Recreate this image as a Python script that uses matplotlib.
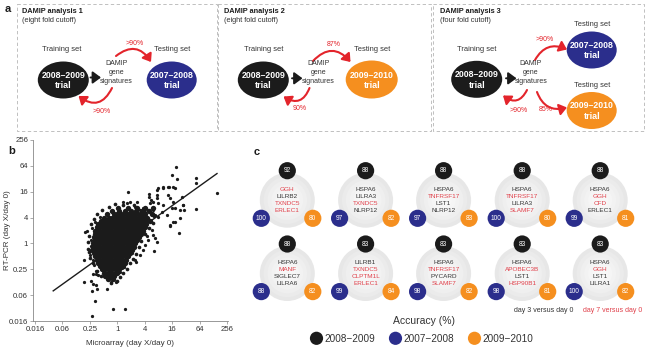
import numpy as np
import matplotlib
matplotlib.use("Agg")
import matplotlib.pyplot as plt
from matplotlib.patches import Ellipse, Circle, Rectangle, FancyArrowPatch

plt.rcParams['font.family'] = ['Liberation Sans', 'DejaVu Sans']

# ------------------------------------------------------------------ data
# panel b: log2 fold changes (microarray x, RT-PCR y)
blob_row_ly = [2.75, 2.5, 2.25, 2.0, 1.75, 1.5, 1.25, 1.0, 0.75, 0.5, 0.25, 0.0,
               -0.25, -0.5, -0.75, -1.0, -1.25, -1.5, -1.75, -2.0, -2.25, -2.5, -2.75]
blob_row_lx = [
    [0.05, 0.8, 1.45, 2.05, 2.6],
    [-0.4, 0.125, 0.6, 1.0, 1.375, 1.8, 2.3],
    [-0.75, -0.25, 0.0, 0.25, 0.5, 0.75, 1.0, 1.25, 1.5, 1.75, 2.0, 2.5],
    [-1.0, -0.625, -0.375, -0.125, 0.125, 0.375, 0.625, 0.875, 1.125, 1.375, 1.625, 1.875, 2.2],
    [-1.2, -1.0, -0.75, -0.5, -0.25, 0.0, 0.25, 0.5, 0.75, 1.0, 1.25, 1.5, 1.75, 2.0, 2.35],
    [-1.375, -1.125, -0.875, -0.625, -0.375, -0.125, 0.125, 0.375, 0.625, 0.875, 1.125,
     1.375, 1.625, 1.875, 2.1],
    [-1.5, -1.25, -1.0, -0.75, -0.5, -0.25, 0.0, 0.25, 0.5, 0.75, 1.0, 1.25, 1.5, 1.75, 2.05],
    [-1.625, -1.375, -1.125, -0.875, -0.625, -0.375, -0.125, 0.125, 0.375, 0.625, 0.875,
     1.125, 1.375, 1.625, 1.9],
    [-1.6, -1.25, -1.0, -0.75, -0.5, -0.25, 0.0, 0.25, 0.5, 0.75, 1.0, 1.25, 1.5, 1.7],
    [-1.7, -1.375, -1.125, -0.875, -0.625, -0.375, -0.125, 0.125, 0.375, 0.625, 0.875,
     1.125, 1.375, 1.6],
    [-1.65, -1.5, -1.25, -1.0, -0.75, -0.5, -0.25, 0.0, 0.25, 0.5, 0.75, 1.0, 1.25, 1.45],
    [-1.8, -1.625, -1.375, -1.125, -0.875, -0.625, -0.375, -0.125, 0.125, 0.375, 0.625,
     0.875, 1.125, 1.3],
    [-1.75, -1.5, -1.25, -1.0, -0.75, -0.5, -0.25, 0.0, 0.25, 0.5, 0.75, 1.0, 1.2],
    [-1.85, -1.625, -1.375, -1.125, -0.875, -0.625, -0.375, -0.125, 0.125, 0.375, 0.625,
     0.875, 1.05],
    [-1.7, -1.5, -1.25, -1.0, -0.75, -0.5, -0.25, 0.0, 0.25, 0.5, 0.75, 0.95],
    [-1.625, -1.375, -1.125, -0.875, -0.625, -0.375, -0.125, 0.125, 0.375, 0.625, 0.8],
    [-1.5, -1.25, -1.0, -0.75, -0.5, -0.25, 0.0, 0.25, 0.45, 0.65],
    [-1.375, -1.125, -0.875, -0.625, -0.375, -0.125, 0.125, 0.3, 0.55],
    [-1.25, -1.0, -0.75, -0.5, -0.25, 0.0, 0.2, 0.4],
    [-1.125, -0.875, -0.625, -0.375, -0.125, 0.1],
    [-1.0, -0.7, -0.45, -0.2, 0.0],
    [-0.9, -0.55, -0.25],
    [-0.7, -0.3],
]
fringe_lx = [-2.05, -2.1, -1.98, -2.15, -1.9, -1.7, -1.45, -1.1, -0.6, -0.2, 0.4, 1.2,
             2.7, 2.6, 2.3, 2.0, 1.75, 1.55, 1.35, 1.15, 0.9, 0.7, 0.45, 0.2, -0.05,
             -0.45, -1.2, -1.5, -1.75, -2.05]
fringe_ly = [0.6, -0.4, -1.1, 0.1, 1.5, 1.9, 2.3, 2.55, 2.8, 3.05, 3.0, 2.95,
             2.1, 1.6, 1.2, 0.7, 0.2, -0.3, -0.8, -1.2, -1.55, -1.95, -2.3, -2.6, -2.9,
             -3.05, -2.5, -2.1, -1.55, -0.7]
out_lx = [4.26, 4.02, 5.74, 5.74, 7.30, 5.74, 4.53, 4.21, 4.09, 3.72, 3.36, 2.99,
          0.81, 2.32, 2.88, 3.72, 3.85, 4.70, 4.77, 4.58, 3.97, 4.33, 3.31, 2.92,
          3.80, 2.34, 2.44, 2.39, 2.58, 2.92, 2.99, 3.36, 4.09, 4.21, 4.82, 4.89,
          4.58, 3.85, 4.21, 3.24, 3.61, 2.99, 0.40, 0.69, 0.93, 1.42, 1.66, 1.90,
          2.02, 2.26, 2.63, 2.75, 1.66, 1.17, 1.29, 3.85, 4.04, 2.63, 2.75, 2.88,
          2.70, 1.90, 2.02, 2.26, 2.51, 1.37, 1.29, 1.05, 1.66, 0.49, 0.32, 0.20,
          0.54, -2.35, -2.19, -2.40, -2.43, -1.92, -1.75, -1.57, -1.38, -1.75,
          -1.57, -1.82, -1.50, -0.73, -0.46, -0.09, -1.62, -1.82, -0.29, -1.95,
          -1.90, -2.00, -1.85, -1.62, -1.26, -1.80, -1.70, -1.55, 1.95, 2.15]
out_ly = [5.89, 5.29, 5.04, 4.70, 3.92, 2.66, 0.78, 4.26, 4.39, 4.39, 4.34, 4.26,
          4.00, 3.61, 3.74, 3.74, 3.49, 3.61, 2.97, 2.58, 2.72, 4.96, 4.26, 4.13,
          4.34, 3.80, 3.36, 3.10, 3.23, 3.49, 3.10, 2.97, 3.23, 2.72, 2.97, 2.58,
          1.94, 1.35, 1.68, 2.45, 2.20, 2.07, 3.23, 3.10, 3.23, 3.23, 2.58, 2.72,
          2.45, 2.58, 2.58, 2.20, 2.20, 2.33, 2.84, 1.42, 1.68, 0.65, 0.40, 0.13,
          -0.56, -0.51, -0.12, 0.26, 1.04, -1.41, -1.28, -0.77, -0.90, -1.80, -1.92,
          -2.19, -5.10, 0.91, 0.98, -1.28, -2.96, -2.91, -2.39, -2.39, -2.44, -3.16,
          -3.22, -3.68, -3.55, -3.55, -2.96, -2.96, -4.43, -5.59, -5.10, 0.30,
          -0.20, -0.90, 1.20, 1.68, 2.07, -1.30, -1.70, -2.10, 1.10, 0.60]
fit_slope = 0.76
fit_intercept = -0.12
fit_lx_range = [-4.67, 7.27]
tick_exp = [-6, -4, -2, 0, 2, 4, 6, 8]
tick_labels = ['0.016', '0.06', '0.25', '1', '4', '16', '64', '256']

# panel a
analysis_titles = ['DAMIP analysis 1', 'DAMIP analysis 2', 'DAMIP analysis 3']
analysis_cutoffs = ['(eight fold cutoff)', '(eight fold cutoff)', '(four fold cutoff)']
trial_names = ['2008–2009', '2007–2008', '2009–2010']

# panel c: accuracy (%) per signature
acc_0809 = [92, 88, 88, 88, 88, 88, 83, 83, 83, 83]
acc_0708 = [100, 97, 97, 100, 99, 88, 99, 98, 98, 100]
acc_0910 = [80, 82, 83, 80, 81, 82, 84, 82, 81, 82]
sig_genes = [
    ['GGH', 'LILRB2', 'TXNDC5', 'ERLEC1'],
    ['HSPA6', 'LILRA3', 'TXNDC5', 'NLRP12'],
    ['HSPA6', 'TNFRSF17', 'LST1', 'NLRP12'],
    ['HSPA6', 'TNFRSF17', 'LILRA3', 'SLAMF7'],
    ['HSPA6', 'GGH', 'CFD', 'ERLEC1'],
    ['HSPA6', 'MANF', 'SIGLEC7', 'LILRA6'],
    ['LILRB1', 'TXNDC5', 'CLPTM1L', 'ERLEC1'],
    ['HSPA6', 'TNFRSF17', 'PYCARD', 'SLAMF7'],
    ['HSPA6', 'APOBEC3B', 'LST1', 'HSP90B1'],
    ['HSPA6', 'GGH', 'LST1', 'LILRA1'],
]
sig_day7 = [
    [1, 0, 1, 1], [0, 0, 1, 0], [0, 1, 0, 0], [0, 1, 0, 1], [0, 1, 1, 0],
    [0, 1, 0, 0], [0, 1, 1, 1], [0, 1, 0, 1], [0, 1, 0, 1], [0, 1, 0, 0],
]
legend_labels = ['2008−2009', '2007−2008', '2009−2010']

# ------------------------------------------------------------------ style
BLACK = '#1b1b1b'
BLUE = '#2b2e8c'
ORANGE = '#f58f1f'
RED = '#e3242b'
GENE_RED = '#e0404a'
TXT = '#333333'

W, H = 647, 353
fig = plt.figure(figsize=(W / 100, H / 100), dpi=100)

# ------------------------------------------------------------------ panel b
x0, x1 = 32.9, 227.7
y0, y1 = 140.0, 321.0
axb = fig.add_axes([x0 / W, (H - y1) / H, (x1 - x0) / W, (y1 - y0) / H])
bx = np.concatenate([np.array(r) for r in blob_row_lx])
by = np.concatenate([np.full(len(r), v) for r, v in zip(blob_row_lx, blob_row_ly)])
axb.scatter(bx, by, s=15, c=BLACK, linewidths=0, marker='o')
axb.scatter(fringe_lx, fringe_ly, s=7, c=BLACK, linewidths=0, marker='o')
axb.scatter(out_lx, out_ly, s=5.5, c=BLACK, linewidths=0, marker='o')
fx = np.array(fit_lx_range)
axb.plot(fx, fit_slope * fx + fit_intercept, color=BLACK, lw=1.0)
axb.set_xlim(-6.15, 8.05)
axb.set_ylim(-6.0, 8.0)
axb.set_xticks(tick_exp)
axb.set_xticklabels(tick_labels)
axb.set_yticks(tick_exp)
axb.set_yticklabels(tick_labels)
for s in ['top', 'right']:
    axb.spines[s].set_visible(False)
for s in ['left', 'bottom']:
    axb.spines[s].set_color('#888888')
    axb.spines[s].set_linewidth(0.6)
axb.tick_params(length=2, width=0.5, color='#888888', labelsize=5.6,
                labelcolor=TXT, pad=1.5)
axb.set_xlabel('Microarray (day X/day 0)', fontsize=5.8, color=TXT)
axb.set_ylabel('RT-PCR (day X/day 0)', fontsize=5.8, color=TXT)
axb.xaxis.set_label_coords(0.5, (y1 - 343.5) / (y1 - y0))
axb.yaxis.set_label_coords((7.5 - x0) / (x1 - x0), 0.5)
axb.xaxis.label.set_va('center')
axb.yaxis.label.set_va('center')
axb.patch.set_alpha(0)

# ------------------------------------------------------------------ overlay
ov = fig.add_axes([0, 0, 1, 1])
ov.set_xlim(0, W)
ov.set_ylim(H, 0)
ov.axis('off')
ov.patch.set_alpha(0)

# panel labels
ov.text(5, 9, 'a', fontsize=8, fontweight='bold', va='center', ha='left', color=BLACK)
ov.text(8, 151, 'b', fontsize=8, fontweight='bold', va='center', ha='left', color=BLACK)
ov.text(254, 152, 'c', fontsize=8, fontweight='bold', va='center', ha='left', color=BLACK)

# dashed boxes
boxes = [(17, 216.5), (218, 431), (433, 644)]
for (bl, br) in boxes:
    ov.add_patch(Rectangle((bl, 4), br - bl, 127, fill=False, ec='#b5b5b5',
                           lw=0.6, ls=(0, (4, 3))))


def ellipse(cx, cy, color, name, w=51, h=37):
    ov.add_patch(Ellipse((cx, cy), w, h, fc=color, ec='none'))
    ov.text(cx, cy - 4.5, name, color='white', fontsize=6.3, fontweight='bold',
            ha='center', va='center')
    ov.text(cx, cy + 5.8, 'trial', color='white', fontsize=6.5, fontweight='bold',
            ha='center', va='center')


def damip(cx):
    for i, t in enumerate(['DAMIP', 'gene', 'signatures']):
        ov.text(cx, 63.5 + 9.0 * i, t, fontsize=5.0, color=TXT, ha='center', va='center')


def red_arrow(a, b, rad):
    ov.add_patch(FancyArrowPatch(a, b, connectionstyle=f'arc3,rad={rad}',
                                 arrowstyle='-|>,head_length=3.2,head_width=2.4',
                                 color=RED, lw=1.5, mutation_scale=1.4,
                                 shrinkA=0, shrinkB=0))


def black_arrow(a, b):
    ov.add_patch(FancyArrowPatch(a, b, arrowstyle='-|>,head_length=3.5,head_width=2.6',
                                 color=BLACK, lw=1.4, mutation_scale=1.4,
                                 shrinkA=0, shrinkB=0))


def pct(x, y, t):
    ov.text(x, y, t, fontsize=5, color=RED, ha='center', va='center')


def header(x, i):
    ov.text(x, 11.5, analysis_titles[i], fontsize=5.3, fontweight='bold',
            color=BLACK, ha='left', va='center')
    ov.text(x, 20.5, analysis_cutoffs[i], fontsize=5.3, color=TXT,
            ha='left', va='center')


def setlabel(x, y, t):
    ov.text(x, y, t, fontsize=5.4, color=TXT, ha='center', va='center')


# analysis 1
header(21.5, 0)
setlabel(62, 49.5, 'Training set')
ellipse(63.3, 80, BLACK, trial_names[0])
black_arrow((90.5, 77.5), (101, 77.5))
damip(116.7)
setlabel(171.7, 49.5, 'Testing set')
ellipse(171.7, 80, BLUE, trial_names[1], w=50)
red_arrow((116, 56), (151, 62), -0.55)
red_arrow((112, 88), (78.5, 96), -0.6)
pct(135, 43.5, '>90%')
pct(102, 111.5, '>90%')

# analysis 2
header(224.5, 1)
setlabel(263.3, 49.5, 'Training set')
ellipse(263.3, 80, BLACK, trial_names[0])
black_arrow((292, 78.3), (302.5, 78.3))
damip(318.3)
setlabel(371.7, 49.5, 'Testing set')
ellipse(371.7, 79.5, ORANGE, trial_names[2], w=52, h=38)
red_arrow((313, 61), (350.5, 62), -0.55)
red_arrow((309.5, 88), (283.5, 96.5), -0.6)
pct(333.3, 44.5, '87%')
pct(300, 108.5, '90%')

# analysis 3
header(440, 2)
setlabel(476.7, 49.5, 'Training set')
ellipse(476.7, 79.3, BLACK, trial_names[0])
black_arrow((506, 78.3), (516.5, 78.3))
damip(531)
setlabel(591.7, 24.5, 'Testing set')
ellipse(591.7, 50, BLUE, trial_names[1], w=50)
setlabel(591.7, 85.5, 'Testing set')
ellipse(591.7, 110.5, ORANGE, trial_names[2], w=50)
red_arrow((535, 60), (567, 49.5), -0.45)
red_arrow((537, 92), (567, 107.5), 0.45)
red_arrow((527, 90), (503, 95.5), -0.6)
pct(545, 39.5, '>90%')
pct(518.5, 110, '>90%')
pct(545.5, 109.5, '85%')

# ------------------------------------------------------------------ panel c
col_x = [287.3, 365.6, 443.6, 522.2, 600.2]
row_y = [170.7, 244.0]
R_small = 8.6
for k in range(10):
    cx = col_x[k % 5]
    cy = row_y[k // 5]
    gy = cy + 29.5
    shades = ['#e7e7e7', '#ebebeb', '#efefef', '#f2f2f2', '#f5f5f5', '#f7f7f7']
    for j, sh in enumerate(shades):
        ov.add_patch(Circle((cx, gy), 27.5 * (1 - 0.14 * j), fc=sh, ec='none'))
    for j, g in enumerate(sig_genes[k]):
        ov.text(cx, cy + 18.9 + 6.85 * j, g, fontsize=4.6,
                color=GENE_RED if sig_day7[k][j] else TXT,
                ha='center', va='center')
    for (px, py, col, v) in [(cx, cy, BLACK, acc_0809[k]),
                             (cx - 26, cy + 47.6, BLUE, acc_0708[k]),
                             (cx + 25.5, cy + 47.6, ORANGE, acc_0910[k])]:
        ov.add_patch(Circle((px, py), R_small, fc=col, ec='none'))
        ov.text(px, py + 0.3, str(v), fontsize=4.8, color='white', ha='center', va='center')

ov.text(543.3, 310.7, 'day 3 versus day 0', fontsize=5, color=TXT, ha='center', va='center')
ov.text(612.7, 310.7, 'day 7 versus day 0', fontsize=5, color=GENE_RED, ha='center', va='center')

# legend
ov.text(424, 321.5, 'Accuracy (%)', fontsize=7.5, color=TXT, ha='center', va='center')
leg_x = [316.5, 395.5, 474.5]
for lx, col, lab in zip(leg_x, [BLACK, BLUE, ORANGE], legend_labels):
    ov.add_patch(Circle((lx, 338.3), 6.6, fc=col, ec='none'))
    ov.text(lx + 8, 338.8, lab, fontsize=7.2, color=TXT, ha='left', va='center')

fig.savefig('out.png', dpi=100)
